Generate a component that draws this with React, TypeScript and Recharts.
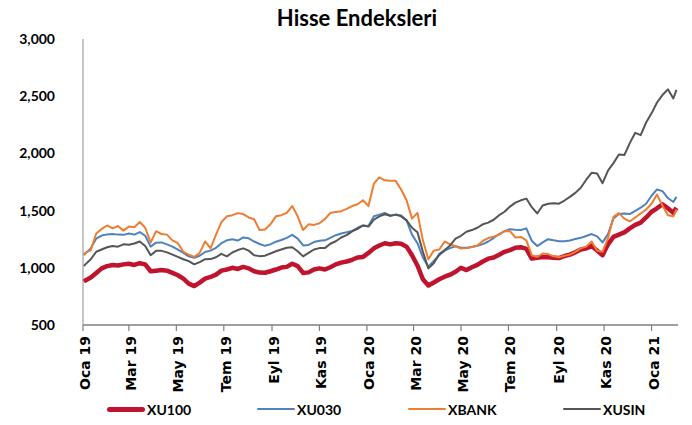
import React from 'react';
import { LineChart, Line, XAxis, YAxis, Legend } from 'recharts';

// weekly closes
const dates = [
  '2019-01-02', '2019-01-04', '2019-01-11', '2019-01-18', '2019-01-25',
  '2019-02-01', '2019-02-08', '2019-02-15', '2019-02-22',
  '2019-03-01', '2019-03-08', '2019-03-15', '2019-03-22', '2019-03-29',
  '2019-04-05', '2019-04-12', '2019-04-19', '2019-04-26',
  '2019-05-03', '2019-05-10', '2019-05-17', '2019-05-24', '2019-05-31',
  '2019-06-07', '2019-06-14', '2019-06-21', '2019-06-28',
  '2019-07-05', '2019-07-12', '2019-07-19', '2019-07-26',
  '2019-08-02', '2019-08-09', '2019-08-16', '2019-08-23', '2019-08-30',
  '2019-09-06', '2019-09-13', '2019-09-20', '2019-09-27',
  '2019-10-04', '2019-10-11', '2019-10-18', '2019-10-25',
  '2019-11-01', '2019-11-08', '2019-11-15', '2019-11-22', '2019-11-29',
  '2019-12-06', '2019-12-13', '2019-12-20', '2019-12-27',
  '2020-01-03', '2020-01-10', '2020-01-17', '2020-01-24', '2020-01-31',
  '2020-02-07', '2020-02-14', '2020-02-21', '2020-02-28',
  '2020-03-06', '2020-03-13', '2020-03-20', '2020-03-27',
  '2020-04-03', '2020-04-10', '2020-04-17', '2020-04-24',
  '2020-05-01', '2020-05-08', '2020-05-15', '2020-05-22', '2020-05-29',
  '2020-06-05', '2020-06-12', '2020-06-19', '2020-06-26',
  '2020-07-03', '2020-07-10', '2020-07-17', '2020-07-24', '2020-07-31',
  '2020-08-07', '2020-08-14', '2020-08-21', '2020-08-28',
  '2020-09-04', '2020-09-11', '2020-09-18', '2020-09-25',
  '2020-10-02', '2020-10-09', '2020-10-16', '2020-10-23', '2020-10-30',
  '2020-11-06', '2020-11-13', '2020-11-20', '2020-11-27',
  '2020-12-04', '2020-12-11', '2020-12-18', '2020-12-25',
  '2021-01-01', '2021-01-08', '2021-01-15', '2021-01-22', '2021-01-29',
  '2021-02-02',
];

const xu100 = [
  880, 890, 915, 955, 995,
  1015, 1025, 1020, 1030,
  1035, 1025, 1040, 1030, 970,
  975, 980, 975, 955,
  935, 905, 862, 840, 870,
  905, 920, 940, 975,
  985, 1000, 990, 1008,
  995, 970, 958, 957, 970,
  985, 1002, 1008, 1035,
  1015, 955, 960, 985,
  995, 985, 1005, 1030, 1045,
  1055, 1070, 1090, 1095,
  1130, 1170, 1195, 1215, 1205,
  1215, 1210, 1185, 1110,
  1020, 900, 845, 872,
  900, 922, 940, 965,
  1000, 980, 1005, 1025, 1055,
  1080, 1090, 1115, 1140,
  1155, 1175, 1180, 1165, 1080,
  1088, 1095, 1092, 1088,
  1085, 1103, 1115, 1135,
  1160, 1170, 1190, 1150, 1110,
  1205, 1270, 1290, 1310,
  1345, 1375, 1395, 1440,
  1490, 1520, 1555, 1520, 1480,
  1525,
];

const xu030 = [
  1115, 1125, 1170, 1255, 1282,
  1292, 1295, 1290, 1288,
  1300, 1290, 1312, 1280, 1185,
  1220, 1222, 1205, 1185,
  1158, 1130, 1100, 1088, 1105,
  1138, 1150, 1175, 1215,
  1240, 1250, 1238, 1265,
  1258, 1230, 1208, 1192, 1205,
  1228, 1243, 1262, 1288,
  1255, 1195, 1200, 1225,
  1236, 1240, 1262, 1285, 1300,
  1310, 1323, 1350, 1370,
  1365, 1450, 1465, 1480, 1455,
  1465, 1458, 1415, 1290,
  1215, 1090, 1010, 1060,
  1110, 1150, 1172, 1188,
  1175, 1175, 1182, 1192, 1207,
  1230, 1260, 1295, 1320,
  1338, 1332, 1330, 1345, 1236,
  1190, 1222, 1250, 1240,
  1232, 1233, 1238, 1252,
  1262, 1278, 1295, 1275, 1222,
  1294, 1430, 1470, 1475,
  1470, 1498, 1525, 1560,
  1630, 1685, 1670, 1610, 1575,
  1620,
];

const xbank = [
  1110, 1130, 1155, 1300, 1340,
  1370, 1345, 1365, 1325,
  1360, 1355, 1400, 1350, 1220,
  1320, 1295, 1290, 1240,
  1215, 1140, 1115, 1095, 1130,
  1230, 1170, 1290, 1400,
  1450, 1460, 1478, 1470,
  1440, 1425, 1330, 1335, 1380,
  1450, 1460, 1480, 1540,
  1450, 1330, 1380, 1375,
  1390, 1425, 1480, 1488, 1495,
  1515, 1540, 1555, 1590,
  1540, 1735, 1790, 1765, 1760,
  1760, 1685, 1590, 1430,
  1480, 1240, 1075, 1150,
  1160, 1230, 1205, 1188,
  1168, 1172, 1182, 1195, 1235,
  1260, 1272, 1290, 1322,
  1320, 1265, 1270, 1240, 1110,
  1095, 1125, 1120, 1100,
  1092, 1105, 1115, 1140,
  1170, 1185, 1230, 1150, 1140,
  1260, 1445, 1478, 1430,
  1405, 1440, 1475, 1510,
  1560, 1640, 1545, 1460, 1450,
  1510,
];

const xusin = [
  1015, 1030, 1075, 1140, 1160,
  1180, 1190, 1185, 1205,
  1202, 1212, 1230, 1190, 1110,
  1148, 1148, 1135, 1115,
  1095, 1075, 1058, 1030, 1050,
  1075, 1076, 1092, 1122,
  1100, 1134, 1155, 1170,
  1150, 1110, 1102, 1106, 1125,
  1145, 1160, 1175, 1180,
  1145, 1100, 1130, 1160,
  1172, 1172, 1210, 1232, 1265,
  1285, 1318, 1340, 1370,
  1360, 1420, 1450, 1468, 1455,
  1465, 1450, 1415, 1350,
  1310, 1140, 995, 1040,
  1120, 1155, 1195, 1255,
  1280, 1315, 1330, 1350, 1380,
  1395, 1420, 1460, 1490,
  1535, 1570, 1590, 1605, 1530,
  1475, 1545, 1560, 1565,
  1560, 1588, 1620, 1655,
  1700, 1770, 1830, 1825, 1740,
  1850, 1915, 1990, 1985,
  2090, 2180, 2160, 2270,
  2350, 2445, 2510, 2560, 2480,
  2555,
];

const tickDates = [
  '2019-01-01', '2019-03-01', '2019-05-01', '2019-07-01', '2019-09-01', '2019-11-01',
  '2020-01-01', '2020-03-01', '2020-05-01', '2020-07-01', '2020-09-01', '2020-11-01',
  '2021-01-01',
];
const tickLabels = [
  'Oca 19', 'Mar 19', 'May 19', 'Tem 19', 'Eyl 19', 'Kas 19',
  'Oca 20', 'Mar 20', 'May 20', 'Tem 20', 'Eyl 20', 'Kas 20',
  'Oca 21',
];
const yTicks = [500, 1000, 1500, 2000, 2500, 3000];

const seriesNames = ['XU100', 'XU030', 'XBANK', 'XUSIN'];
const seriesValues = [xu100, xu030, xbank, xusin];
const seriesColors = ['#C0142E', '#4F81BD', '#ED7D31', '#555555'];
const seriesWidths = [4.5, 2, 2, 2];

const toTime = (d: string) => Date.parse(d + 'T00:00:00Z');
const tickTimes = tickDates.map(toTime);

const data = dates.map((d, i) => {
  const row: Record<string, number> = { t: toTime(d) };
  seriesNames.forEach((name, s) => {
    row[name] = seriesValues[s][i];
  });
  return row;
});

const LEGEND_LEFT = [107, 257, 408, 563];

const DateTick = (props: any) => {
  const { x, y, payload } = props;
  const idx = tickTimes.indexOf(payload.value);
  return (
    <g transform={`translate(${x},${y})`}>
      <text
        transform="rotate(-90)"
        x={-3}
        y={0}
        dy={7}
        textAnchor="end"
        fontFamily="'DejaVu Sans', sans-serif"
        fontWeight="bold"
        fontSize={14}
        fill="#000"
      >
        {idx >= 0 ? tickLabels[idx] : ''}
      </text>
    </g>
  );
};

const LegendContent = () => (
  <div style={{ position: 'relative', height: 24 }}>
    {seriesNames.map((name, i) => (
      <div
        key={name}
        style={{
          position: 'absolute',
          left: LEGEND_LEFT[i],
          top: 0,
          height: 24,
          display: 'flex',
          alignItems: 'center',
        }}
      >
        <span
          style={{
            display: 'inline-block',
            width: 38,
            height: i === 0 ? 5 : 2.5,
            borderRadius: 3,
            background: seriesColors[i],
          }}
        />
        <span
          style={{
            marginLeft: 2,
            fontFamily: 'Lato, sans-serif',
            fontWeight: 'bold',
            fontSize: 14,
            color: '#000',
          }}
        >
          {name}
        </span>
      </div>
    ))}
  </div>
);

export default function App() {
  return (
    <div style={{ position: 'absolute', left: 0, top: 0, width: 692, height: 425, background: '#fff' }}>
      <div
        style={{
          position: 'absolute',
          left: 357,
          top: 7,
          transform: 'translateX(-50%)',
          fontFamily: 'Lato, sans-serif',
          fontWeight: 'bold',
          fontSize: 22,
          lineHeight: '22px',
          whiteSpace: 'nowrap',
          color: '#000',
        }}
      >
        Hisse Endeksleri
      </div>
      <LineChart width={692} height={425} data={data} margin={{ top: 39, right: 14, bottom: 0, left: 0 }}>
        <XAxis
          dataKey="t"
          type="number"
          domain={[toTime('2019-01-01'), toTime('2021-02-04')]}
          ticks={tickTimes}
          interval={0}
          height={72}
          axisLine={{ stroke: '#7F7F7F', strokeWidth: 1.5 }}
          tickLine={{ stroke: '#7F7F7F', strokeWidth: 1.2 }}
          tickSize={6}
          tick={<DateTick />}
        />
        <YAxis
          domain={[500, 3000]}
          ticks={yTicks}
          interval={0}
          width={83}
          axisLine={{ stroke: '#8C8C8C', strokeWidth: 1 }}
          tickLine={false}
          tickSize={0}
          tickMargin={28}
          tickFormatter={(v: number) => v.toLocaleString('en-US')}
          tick={{ fontFamily: 'Lato, sans-serif', fontWeight: 'bold', fontSize: 14, fill: '#000' }}
        />
        <Legend
          verticalAlign="bottom"
          content={<LegendContent />}
          wrapperStyle={{ left: 0, width: 692, height: 28 }}
        />
        {seriesNames.map((name, i) => (
          <Line
            key={name}
            type="linear"
            dataKey={name}
            stroke={seriesColors[i]}
            strokeWidth={seriesWidths[i]}
            strokeLinejoin="round"
            dot={false}
            activeDot={false}
            isAnimationActive={false}
          />
        ))}
      </LineChart>
    </div>
  );
}
